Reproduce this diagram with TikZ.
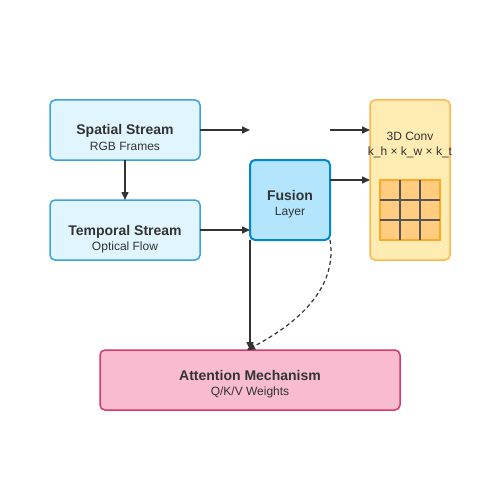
\documentclass[tikz,border=0pt]{standalone}
\usepackage{fontspec}
\setmainfont{Liberation Sans}
\usetikzlibrary{arrows.meta}
\definecolor{txt}{HTML}{333333}
\definecolor{ln}{HTML}{333333}
\definecolor{blueF}{HTML}{E1F5FE}
\definecolor{blueS}{HTML}{3AA3DC}
\definecolor{fusF}{HTML}{B3E5FC}
\definecolor{fusS}{HTML}{0288D1}
\definecolor{convF}{HTML}{FFECB3}
\definecolor{convS}{HTML}{FFB74D}
\definecolor{gridF}{HTML}{FFCC80}
\definecolor{gridS}{HTML}{FFA726}
\definecolor{gridL}{HTML}{555555}
\definecolor{attF}{HTML}{F8BBD0}
\definecolor{attS}{HTML}{D6396B}
\begin{document}
\begin{tikzpicture}[x=1pt,y=-1pt,
  box/.style={draw=blueS,fill=blueF,line width=1.5pt,rounded corners=5pt},
  ttl/.style={font=\bfseries\fontsize{14}{16}\selectfont,text=txt,inner sep=0pt,anchor=base},
  sub/.style={font=\fontsize{12}{14}\selectfont,text=txt,inner sep=0pt,anchor=base},
  conn/.style={draw=ln,line width=1.5pt,-{Triangle[length=8pt,width=7pt]}},
  gl/.style={draw=gridL,line width=2pt}]
\fill[white] (0,0) rectangle (500,500);
\useasboundingbox (0,0) rectangle (500,500);
% boxes
\draw[box] (50,100) rectangle (200,160);
\node[ttl] (spT) at (125,135) {Spatial Stream};
\node[sub] (spS) at (125,150) {RGB Frames};
\coordinate (spR) at (200,130);
\coordinate (spB) at (125,160);

\draw[box] (50,200) rectangle (200,260);
\node[ttl] (tpT) at (125,235) {Temporal Stream};
\node[sub] (tpS) at (125,250) {Optical Flow};
\coordinate (tpR) at (200,230);
\coordinate (tpTop) at (125,200);

\draw[draw=fusS,fill=fusF,line width=2pt,rounded corners=5pt] (250,160) rectangle (330,240);
\node[ttl] (fuT) at (290,200) {Fusion};
\node[sub] (fuS) at (290,215) {Layer};
\coordinate (fuL) at (250,230);
\coordinate (fuLT) at (250,130);
\coordinate (fuR) at (330,180);
\coordinate (fuBL) at (250,240);
\coordinate (fuBR) at (330,240);
\coordinate (fuRT) at (330,130);

\draw[draw=convS,fill=convF,line width=1.5pt,rounded corners=5pt] (370,100) rectangle (450,260);
\node[sub] (cvT) at (410,140) {3D Conv};
\node[sub] (cvS) at (410,155) {k\_h × k\_w × k\_t};
\coordinate (cvL1) at (370,130);
\coordinate (cvL2) at (370,180);
\draw[draw=gridS,fill=gridF,line width=1.5pt] (380,180) rectangle (440,240);
\draw[gl] (400,180) -- (400,240);
\draw[gl] (420,180) -- (420,240);
\draw[gl] (380,200) -- (440,200);
\draw[gl] (380,220) -- (440,220);

\draw[draw=attS,fill=attF,line width=1.5pt,rounded corners=5pt] (100,350) rectangle (400,410);
\node[ttl] (atT) at (250,380) {Attention Mechanism};
\node[sub] (atS) at (250,395) {Q/K/V Weights};
\coordinate (atTop) at (250,350);
\coordinate (atTop2) at (247,350);

% connectors
\draw[conn] (spR) -- (fuLT);
\draw[conn] (fuRT) -- (cvL1);
\draw[conn] (spB) -- (tpTop);
\draw[conn] (tpR) -- (fuL);
\draw[conn] (fuR) -- (cvL2);
\draw[conn] (fuBL) -- (atTop);
\draw[conn,dash pattern=on 4pt off 3pt,line width=1.2pt] (fuBR) .. controls (336.7,280) and (310,316.7) .. (atTop2);
\end{tikzpicture}
\end{document}
